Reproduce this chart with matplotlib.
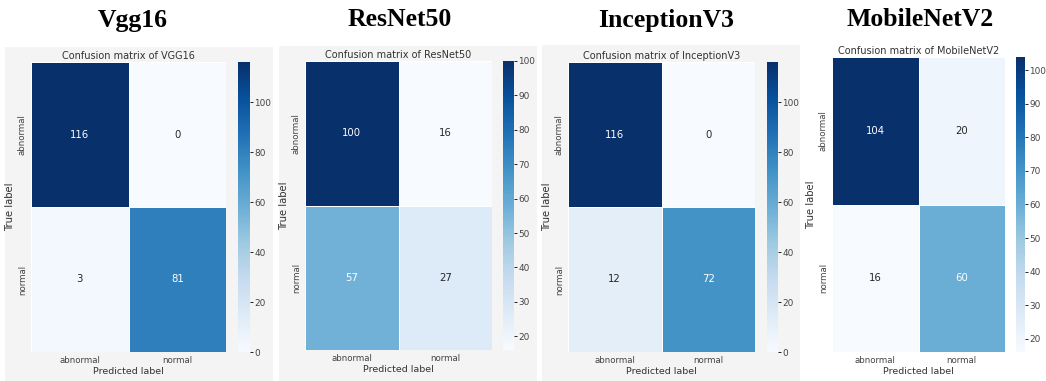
import matplotlib
matplotlib.use("Agg")
import matplotlib.pyplot as plt
from matplotlib.patches import Rectangle
import numpy as np
import seaborn as sns

# Confusion matrices (rows: true label, cols: predicted label)
class_labels = ["abnormal", "normal"]
model_titles = ["Vgg16", "ResNet50", "InceptionV3", "MobileNetV2"]
matrix_titles = ["VGG16", "ResNet50", "InceptionV3", "MobileNetV2"]
cm_vgg16 = [[116, 0], [3, 81]]
cm_resnet50 = [[100, 16], [57, 27]]
cm_inceptionv3 = [[116, 0], [12, 72]]
cm_mobilenetv2 = [[104, 20], [16, 60]]
matrices = [cm_vgg16, cm_resnet50, cm_inceptionv3, cm_mobilenetv2]

W, H = 1046, 381
fig = plt.figure(figsize=(W / 100, H / 100), dpi=100)
fig.patch.set_facecolor("white")


def box(x0, y0, x1, y1):
    """Pixel box (top-left origin) -> figure fraction rect."""
    return [x0 / W, 1 - y1 / H, (x1 - x0) / W, (y1 - y0) / H]


# panel layout in pixels: background, heatmap, colorbar, big title centre
panels = [
    dict(bg=(5, 47, 273, 381), hm=(31, 62, 226, 352), cb=(238, 62, 250, 352), tx=133),
    dict(bg=(279, 46, 537, 381), hm=(305, 61, 492, 350), cb=(503, 61, 514, 350), tx=400),
    dict(bg=(542, 45, 800, 381), hm=(568, 62, 755, 352), cb=(767, 62, 778, 352), tx=666),
    dict(bg=None, hm=(832, 57, 1005, 352), cb=(1016, 57, 1025, 352), tx=920),
]

bg_color = "#f4f4f4"
txt = "#333333"

for p, cm, big, small_title in zip(panels, matrices, model_titles, matrix_titles):
    if p["bg"] is not None:
        x0, y0, x1, y1 = p["bg"]
        fig.patches.append(Rectangle((x0 / W, 1 - y1 / H), (x1 - x0) / W, (y1 - y0) / H,
                                     transform=fig.transFigure, facecolor=bg_color,
                                     edgecolor="none", zorder=-5))
    ax = fig.add_axes(box(*p["hm"]))
    cax = fig.add_axes(box(*p["cb"]))
    sns.heatmap(np.array(cm), annot=True, fmt="d", cmap="Blues", ax=ax, cbar_ax=cax,
                linewidths=0.6, linecolor="white",
                xticklabels=class_labels, yticklabels=class_labels,
                annot_kws={"fontsize": 7.3})
    ax.set_title(f"Confusion matrix of {small_title}", fontsize=7, pad=2, color=txt)
    ax.set_xlabel("Predicted label", fontsize=6.8, labelpad=1, color=txt)
    ax.set_ylabel("True label", fontsize=7.2, labelpad=2, color=txt)
    ax.tick_params(length=0, labelsize=6.2, labelcolor="#444444", pad=3)
    for t in ax.get_yticklabels():
        t.set_rotation(90)
        t.set_va("center")
    cax.tick_params(labelsize=6.4, length=2, width=0.6, pad=1, labelcolor="#444444")
    for s in cax.spines.values():
        s.set_visible(False)
    fig.text(p["tx"] / W, 1 - 20 / H, big, ha="center", va="center",
             fontsize=18.5, fontweight="bold", family="Liberation Serif")

fig.savefig("out.png", dpi=100, facecolor="white")
